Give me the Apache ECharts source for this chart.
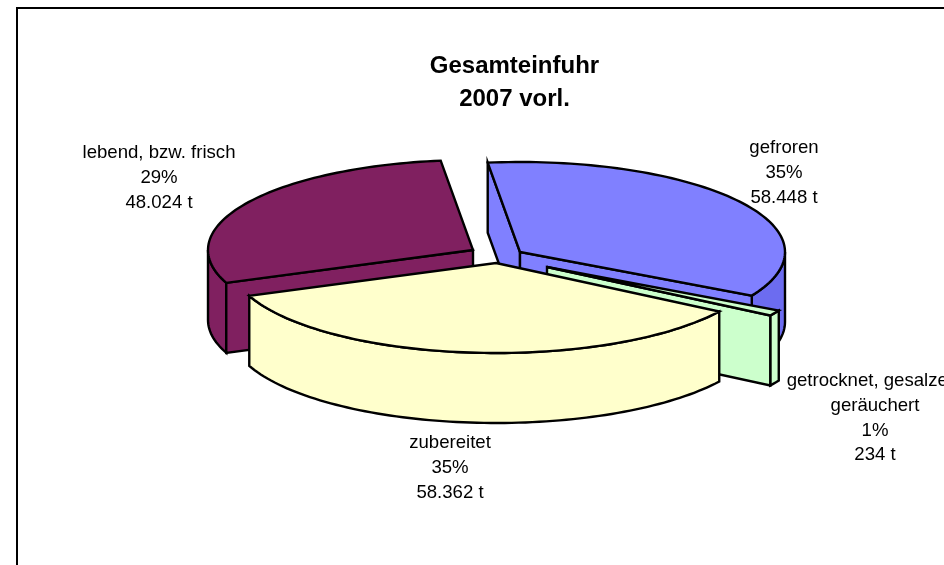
<!DOCTYPE html>
<html>
<head>
<meta charset="utf-8">
<style>html,body{margin:0;padding:0;background:#fff;overflow:hidden}#c{width:944px;height:565px}</style>
<script src="https://cdn.jsdelivr.net/npm/echarts@6/dist/echarts.min.js"></script>
</head>
<body>
<div id="c"></div>
<script>
// Data
var categories = ['gefroren', 'getrocknet, gesalzen,\ngeräuchert', 'zubereitet', 'lebend, bzw. frisch'];
var percents = [35, 1, 35, 29];
var tonnes = ['58.448 t', '234 t', '58.362 t', '48.024 t'];
var chartTitle = 'Gesamteinfuhr\n2007 vorl.';

// Appearance / layout
var topColors = ['#8080ff', '#ccffcc', '#ffffcc', '#802060'];
var sideColors = ['#6c6cf0', '#ccffcc', '#ffffcc', '#802060'];
var apexX = [520, 547, 496, 473];
var apexY = [252, 267, 263, 250];
var labelX = [784, 875, 450, 159];
var labelY = [136, 369, 431, 141];
var drawOrder = [0, 3, 1, 2];
var RX = 265, RY = 90, DEPTH = 70, START_DEG = -7;

var rad = Math.PI / 180;
function rim(i, deg, dz) {
  return [apexX[i] + RX * Math.sin(deg * rad), apexY[i] - RY * Math.cos(deg * rad) + (dz || 0)];
}
function arc(i, a, b, dz) {
  var n = Math.max(2, Math.ceil(Math.abs(b - a) / 1.5)), out = [];
  for (var k = 0; k <= n; k++) out.push(rim(i, a + (b - a) * k / n, dz));
  return out;
}
var total = percents.reduce(function (s, v) { return s + v; }, 0);
var starts = [], ends = [], acc = START_DEG;
percents.forEach(function (v, i) { starts[i] = acc; acc += v / total * 360; ends[i] = acc; });

function poly(points, fill) {
  return { type: 'polygon', shape: { points: points },
    style: { fill: fill, stroke: '#000', lineWidth: 2.4, lineJoin: 'miter' } };
}
function face(i, deg) {
  var r = rim(i, deg), rb = rim(i, deg, DEPTH);
  return poly([[apexX[i], apexY[i]], r, rb, [apexX[i], apexY[i] + DEPTH]], topColors[i]);
}
function renderSlice(params, api) {
  var i = api.value(0), a = starts[i], b = ends[i], children = [];
  var fa = Math.max(a, 90), fb = Math.min(b, 270);
  if (fb > fa) {
    children.push(poly(arc(i, fa, fb).concat(arc(i, fb, fa, DEPTH)), sideColors[i]));
  }
  if (Math.sin(a * rad) < 0) children.push(face(i, a));
  if (Math.sin(b * rad) > 0) children.push(face(i, b));
  children.push(poly([[apexX[i], apexY[i]]].concat(arc(i, a, b)), topColors[i]));
  return { type: 'group', children: children };
}

var labelElements = categories.map(function (c, i) {
  return { type: 'text', x: labelX[i], y: labelY[i], silent: true,
    style: { text: c + '\n' + percents[i] + '%\n' + tonnes[i], fill: '#000', align: 'center',
      font: '18.6px "Liberation Sans", Arial, sans-serif', lineHeight: 24.6 } };
});

var chart = echarts.init(document.getElementById('c'), null, { renderer: 'canvas' });
chart.setOption({
  backgroundColor: '#fff',
  animation: false,
  title: { text: chartTitle, left: 509.5, top: 45, textAlign: 'center',
    textStyle: { fontFamily: '"Liberation Sans", Arial, sans-serif', fontSize: 24, fontWeight: 'bold', color: '#000', lineHeight: 33 } },
  graphic: [{ type: 'polyline', silent: true, shape: { points: [[17, 566], [17, 8], [945, 8]] },
    style: { fill: null, stroke: '#000', lineWidth: 2 } }].concat(labelElements),
  series: [{ type: 'custom', coordinateSystem: 'none', silent: true, clip: false,
    data: drawOrder.map(function (i) { return [i, percents[i]]; }),
    renderItem: renderSlice }]
});
</script>
</body>
</html>
